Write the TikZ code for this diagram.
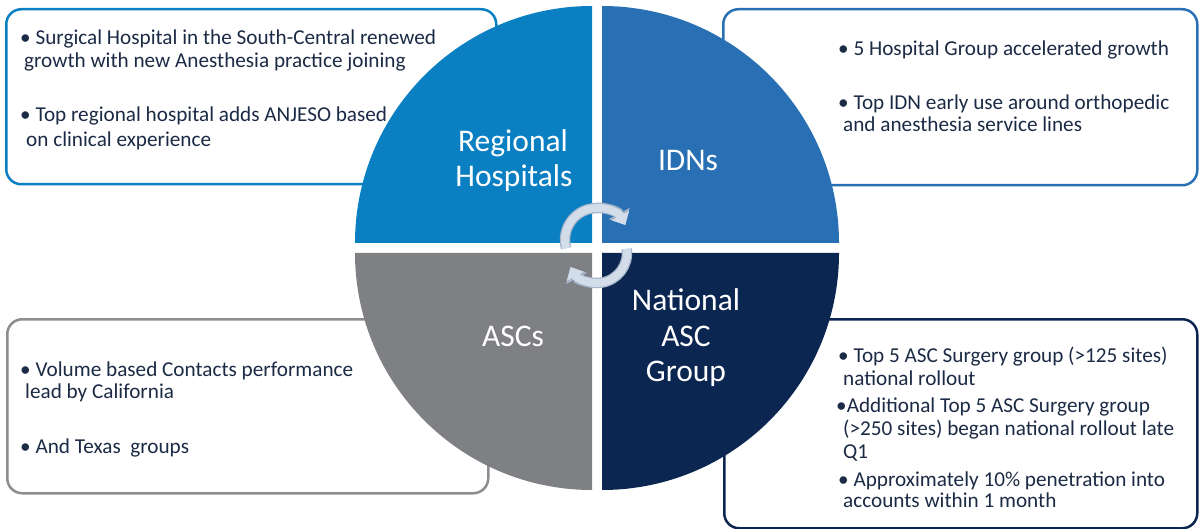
\documentclass[tikz,border=0pt]{standalone}
\usepackage{fontspec}
\setmainfont{Carlito}
\usetikzlibrary{arrows.meta}
\definecolor{qblue}{HTML}{0A7FC2}
\definecolor{qidn}{HTML}{2870B3}
\definecolor{qgrey}{HTML}{7F8084}
\definecolor{qnavy}{HTML}{0B2650}
\definecolor{txt}{HTML}{1C2B45}
\definecolor{arrfill}{HTML}{D3DDEA}
\definecolor{arrline}{HTML}{A3B3C8}
\begin{document}
\begin{tikzpicture}[x=1pt,y=1pt,
  box/.style={draw, line width=2.5pt, rounded corners=15pt, fill=white, anchor=north west, inner sep=0pt},
  body/.style={anchor=base west, inner sep=0pt, text=txt, font=\fontsize{21.2}{24}\selectfont},
  qlabel/.style={anchor=base, inner sep=0pt, text=white, font=\fontsize{31.5}{36}\selectfont},
  arrout/.style={draw=arrline, line width=10.5pt, -{Triangle[width=23pt,length=13pt]}},
  arrin/.style={draw=arrfill, line width=8pt, -{Triangle[width=19pt,length=10.5pt]}}
]
\useasboundingbox (0,0) rectangle (1199,-529);
% boxes
\node[box, draw=qblue, minimum width=490pt, minimum height=175pt] (tlbox) at (5,-8) {};
\node[box, draw=qidn, minimum width=474pt, minimum height=176pt] (trbox) at (722,-8) {};
\node[box, draw=qgrey!90, minimum width=481pt, minimum height=174pt] (blbox) at (6,-318) {};
\node[box, draw=qnavy, minimum width=473pt, minimum height=209pt] (brbox) at (723,-318) {};
% quadrants
\def\R{237}
\fill[qblue] (592,-243) -- ++(-\R,0) arc[start angle=180,end angle=90,radius=\R] -- cycle;
\fill[qidn] (602,-243) -- ++(0,\R) arc[start angle=90,end angle=0,radius=\R] -- cycle;
\fill[qgrey] (592,-253) -- ++(-\R,0) arc[start angle=180,end angle=270,radius=\R] -- cycle;
\fill[qnavy] (602,-253) -- ++(\R,0) arc[start angle=0,end angle=-90,radius=\R] -- cycle;
% quadrant labels
\node[qlabel] (reg1) at (513,-152) {Regional};
\node[qlabel] (reg2) at (514,-187) {Hospitals};
\node[qlabel] (idn) at (688,-171) {IDNs};
\node[qlabel] (asc) at (513,-346) {ASCs};
\node[qlabel] (nat1) at (686,-310) {National};
\node[qlabel] (nat2) at (686,-346) {ASC};
\node[qlabel] (nat3) at (686,-381) {Group};
% cycle arrows
\coordinate (c1) at (597,-240);
\coordinate (c2) at (597,-253);
\draw[arrout] ([shift={(195:32)}]c1) arc[start angle=195,end angle=28,radius=32];
\draw[arrin] ([shift={(195:32)}]c1) arc[start angle=195,end angle=28,radius=32];
\draw[arrout] ([shift={(8:30)}]c2) arc[start angle=8,end angle=-152,radius=30];
\draw[arrin] ([shift={(8:30)}]c2) arc[start angle=8,end angle=-152,radius=30];
% top-left text
\node[body] (tl1) at (20,-45) {• Surgical Hospital in the South-Central renewed};
\node[body] (tl2) at (24,-68) {growth with new Anesthesia practice joining};
\node[body] (tl3) at (20,-122) {• Top regional hospital adds ANJESO based};
\node[body] (tl4) at (26,-147) {on clinical experience};
% top-right text
\node[body] (tr1) at (838,-56) {• 5 Hospital Group accelerated growth};
\node[body] (tr2) at (838,-110) {• Top IDN early use around orthopedic};
\node[body] (tr3) at (843,-132) {and anesthesia service lines};
% bottom-left text
\node[body] (bl1) at (20,-376) {• Volume based Contacts performance};
\node[body] (bl2) at (25,-398) {lead by California};
\node[body] (bl3) at (20,-453) {• And Texas\ \ groups};
% bottom-right text
\node[body] (br1) at (838,-362) {• Top 5 ASC Surgery group (>125 sites)};
\node[body] (br2) at (843,-385) {national rollout};
\node[body] (br3) at (836,-412) {•Additional Top 5 ASC Surgery group};
\node[body] (br4) at (843,-435) {(>250 sites) began national rollout late};
\node[body] (br5) at (843,-458) {Q1};
\node[body] (br6) at (838,-486) {• Approximately 10\% penetration into};
\node[body] (br7) at (843,-507) {accounts within 1 month};
\end{tikzpicture}
\end{document}
